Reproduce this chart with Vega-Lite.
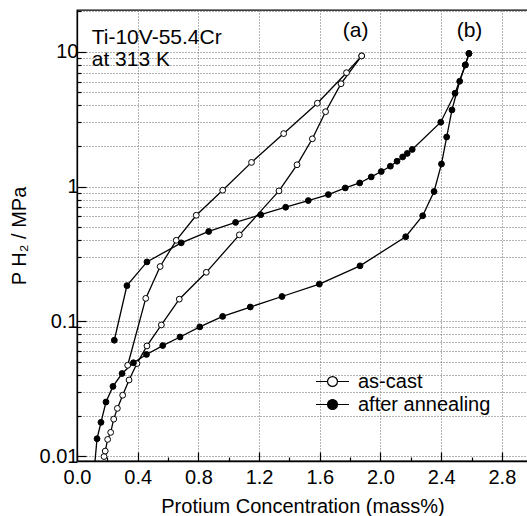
{
  "$schema": "https://vega.github.io/schema/vega-lite/v6.json",
  "width": 451,
  "height": 451,
  "autosize": "none",
  "padding": {"left": 77, "top": 10, "right": 0, "bottom": 55},
  "background": "white",
  "config": {
    "view": {"stroke": "black", "strokeWidth": 1.3},
    "font": "Liberation Sans"
  },
  "datasets": {
    "curves": [
      {"series": "as-cast", "curve": "ac-abs", "x": 0.178, "y": 0.00993},
      {"series": "as-cast", "curve": "ac-abs", "x": 0.186, "y": 0.0109},
      {"series": "as-cast", "curve": "ac-abs", "x": 0.202, "y": 0.0133},
      {"series": "as-cast", "curve": "ac-abs", "x": 0.222, "y": 0.0150},
      {"series": "as-cast", "curve": "ac-abs", "x": 0.242, "y": 0.0188},
      {"series": "as-cast", "curve": "ac-abs", "x": 0.266, "y": 0.0226},
      {"series": "as-cast", "curve": "ac-abs", "x": 0.301, "y": 0.0283},
      {"series": "as-cast", "curve": "ac-abs", "x": 0.343, "y": 0.0367},
      {"series": "as-cast", "curve": "ac-abs", "x": 0.395, "y": 0.0486},
      {"series": "as-cast", "curve": "ac-abs", "x": 0.461, "y": 0.0657},
      {"series": "as-cast", "curve": "ac-abs", "x": 0.556, "y": 0.094},
      {"series": "as-cast", "curve": "ac-abs", "x": 0.674, "y": 0.146},
      {"series": "as-cast", "curve": "ac-abs", "x": 0.852, "y": 0.231},
      {"series": "as-cast", "curve": "ac-abs", "x": 1.070, "y": 0.438},
      {"series": "as-cast", "curve": "ac-abs", "x": 1.331, "y": 0.928},
      {"series": "as-cast", "curve": "ac-abs", "x": 1.450, "y": 1.45},
      {"series": "as-cast", "curve": "ac-abs", "x": 1.551, "y": 2.26},
      {"series": "as-cast", "curve": "ac-abs", "x": 1.638, "y": 3.59},
      {"series": "as-cast", "curve": "ac-abs", "x": 1.740, "y": 5.79},
      {"series": "as-cast", "curve": "ac-abs", "x": 1.876, "y": 9.31},
      {"series": "as-cast", "curve": "ac-des", "x": 1.876, "y": 9.31},
      {"series": "as-cast", "curve": "ac-des", "x": 1.776, "y": 6.99},
      {"series": "as-cast", "curve": "ac-des", "x": 1.584, "y": 4.15},
      {"series": "as-cast", "curve": "ac-des", "x": 1.362, "y": 2.47},
      {"series": "as-cast", "curve": "ac-des", "x": 1.150, "y": 1.51},
      {"series": "as-cast", "curve": "ac-des", "x": 0.960, "y": 0.939},
      {"series": "as-cast", "curve": "ac-des", "x": 0.786, "y": 0.612},
      {"series": "as-cast", "curve": "ac-des", "x": 0.654, "y": 0.399},
      {"series": "as-cast", "curve": "ac-des", "x": 0.548, "y": 0.255},
      {"series": "as-cast", "curve": "ac-des", "x": 0.453, "y": 0.148},
      {"series": "as-cast", "curve": "ac-des", "x": 0.334, "y": 0.0472},
      {"series": "after annealing", "curve": "an-abs", "x": 0.116, "y": 0.0085},
      {"series": "after annealing", "curve": "an-abs", "x": 0.132, "y": 0.01346},
      {"series": "after annealing", "curve": "an-abs", "x": 0.158, "y": 0.0178},
      {"series": "after annealing", "curve": "an-abs", "x": 0.191, "y": 0.0252},
      {"series": "after annealing", "curve": "an-abs", "x": 0.237, "y": 0.0329},
      {"series": "after annealing", "curve": "an-abs", "x": 0.297, "y": 0.0410},
      {"series": "after annealing", "curve": "an-abs", "x": 0.372, "y": 0.0493},
      {"series": "after annealing", "curve": "an-abs", "x": 0.458, "y": 0.0568},
      {"series": "after annealing", "curve": "an-abs", "x": 0.565, "y": 0.0661},
      {"series": "after annealing", "curve": "an-abs", "x": 0.679, "y": 0.0765},
      {"series": "after annealing", "curve": "an-abs", "x": 0.809, "y": 0.0909},
      {"series": "after annealing", "curve": "an-abs", "x": 0.960, "y": 0.1088},
      {"series": "after annealing", "curve": "an-abs", "x": 1.142, "y": 0.1277},
      {"series": "after annealing", "curve": "an-abs", "x": 1.351, "y": 0.1528},
      {"series": "after annealing", "curve": "an-abs", "x": 1.597, "y": 0.189},
      {"series": "after annealing", "curve": "an-abs", "x": 1.865, "y": 0.258},
      {"series": "after annealing", "curve": "an-abs", "x": 2.166, "y": 0.424},
      {"series": "after annealing", "curve": "an-abs", "x": 2.278, "y": 0.607},
      {"series": "after annealing", "curve": "an-abs", "x": 2.353, "y": 0.918},
      {"series": "after annealing", "curve": "an-abs", "x": 2.402, "y": 1.47},
      {"series": "after annealing", "curve": "an-abs", "x": 2.436, "y": 2.33},
      {"series": "after annealing", "curve": "an-abs", "x": 2.471, "y": 3.70},
      {"series": "after annealing", "curve": "an-abs", "x": 2.522, "y": 6.04},
      {"series": "after annealing", "curve": "an-abs", "x": 2.559, "y": 7.98},
      {"series": "after annealing", "curve": "an-abs", "x": 2.583, "y": 9.70},
      {"series": "after annealing", "curve": "an-des", "x": 0.246, "y": 0.0724},
      {"series": "after annealing", "curve": "an-des", "x": 0.329, "y": 0.184},
      {"series": "after annealing", "curve": "an-des", "x": 0.461, "y": 0.276},
      {"series": "after annealing", "curve": "an-des", "x": 0.687, "y": 0.382},
      {"series": "after annealing", "curve": "an-des", "x": 0.868, "y": 0.464},
      {"series": "after annealing", "curve": "an-des", "x": 1.045, "y": 0.542},
      {"series": "after annealing", "curve": "an-des", "x": 1.211, "y": 0.618},
      {"series": "after annealing", "curve": "an-des", "x": 1.375, "y": 0.702},
      {"series": "after annealing", "curve": "an-des", "x": 1.524, "y": 0.787},
      {"series": "after annealing", "curve": "an-des", "x": 1.656, "y": 0.872},
      {"series": "after annealing", "curve": "an-des", "x": 1.768, "y": 0.976},
      {"series": "after annealing", "curve": "an-des", "x": 1.863, "y": 1.063},
      {"series": "after annealing", "curve": "an-des", "x": 1.939, "y": 1.178},
      {"series": "after annealing", "curve": "an-des", "x": 2.005, "y": 1.292},
      {"series": "after annealing", "curve": "an-des", "x": 2.065, "y": 1.415},
      {"series": "after annealing", "curve": "an-des", "x": 2.109, "y": 1.541},
      {"series": "after annealing", "curve": "an-des", "x": 2.146, "y": 1.658},
      {"series": "after annealing", "curve": "an-des", "x": 2.176, "y": 1.76},
      {"series": "after annealing", "curve": "an-des", "x": 2.209, "y": 1.884},
      {"series": "after annealing", "curve": "an-des", "x": 2.397, "y": 3.00},
      {"series": "after annealing", "curve": "an-des", "x": 2.491, "y": 4.92},
      {"series": "after annealing", "curve": "an-des", "x": 2.559, "y": 7.98},
      {"series": "after annealing", "curve": "an-des", "x": 2.583, "y": 9.70}
    ],
    "notes": [
      {"x": 0.097, "y": 11.36, "t": "Ti-10V-55.4Cr"},
      {"x": 0.097, "y": 7.85, "t": "at 313 K"},
      {"x": 1.751, "y": 12.8, "t": "(a)"},
      {"x": 2.502, "y": 12.8, "t": "(b)"}
    ]
  },
  "encoding": {
    "x": {
      "field": "x",
      "type": "quantitative",
      "scale": {"domain": [0, 2.972], "nice": false, "zero": false},
      "axis": {
        "title": "Protium Concentration (mass%)",
        "titleFontSize": 20,
        "titleFontWeight": "normal",
        "titleColor": "black",
        "titlePadding": 4,
        "values": [0, 0.2, 0.4, 0.6, 0.8, 1.0, 1.2, 1.4, 1.6, 1.8, 2.0, 2.2, 2.4, 2.6, 2.8],
        "labelExpr": "round(datum.value*10) % 4 == 0 ? format(datum.value, '.1f') : ''",
        "labelFontSize": 20,
        "labelColor": "black",
        "labelPadding": 15,
        "labelFlush": false,
        "labelOverlap": false,
        "tickSize": {"condition": {"test": "round(datum.value*10) % 4 == 0", "value": -9}, "value": -4},
        "tickColor": "black",
        "tickWidth": 1.2,
        "domainColor": "black",
        "domainWidth": 1.3,
        "grid": true,
        "gridDash": [1, 2],
        "gridColor": "#666",
        "gridOpacity": {"condition": {"test": "round(datum.value*10) % 4 == 0 && datum.value > 0", "value": 1}, "value": 0}
      }
    },
    "y": {
      "field": "y",
      "type": "quantitative",
      "scale": {"type": "log", "domain": [0.0092, 20.4], "nice": false},
      "axis": {
        "title": "P  H₂ / MPa",
        "titleFontSize": 20,
        "titleFontWeight": "normal",
        "titleColor": "black",
        "titlePadding": 10,
        "values": [0.01, 0.02, 0.03, 0.04, 0.05, 0.06, 0.07, 0.08, 0.09, 0.1, 0.2, 0.3, 0.4, 0.5, 0.6, 0.7, 0.8, 0.9, 1, 2, 3, 4, 5, 6, 7, 8, 9, 10, 20],
        "labelExpr": "(datum.value == 0.01 || datum.value == 0.1 || datum.value == 1 || datum.value == 10) ? format(datum.value, '~g') : ''",
        "labelFontSize": 20,
        "labelColor": "black",
        "labelPadding": 8,
        "labelFlush": false,
        "labelOverlap": false,
        "tickSize": {"condition": {"test": "datum.value == 0.01 || datum.value == 0.1 || datum.value == 1 || datum.value == 10", "value": -9}, "value": -4},
        "tickColor": "black",
        "tickWidth": 1.2,
        "domainColor": "black",
        "domainWidth": 1.3,
        "grid": true,
        "gridDash": [1, 2],
        "gridColor": "#666"
      }
    }
  },
  "layer": [
    {
      "data": {"name": "curves"},
      "mark": {"type": "line", "color": "black", "strokeWidth": 1.3, "clip": true},
      "encoding": {"detail": {"field": "curve", "type": "nominal"}}
    },
    {
      "data": {"name": "curves"},
      "mark": {"type": "circle", "size": 34, "stroke": "black", "strokeWidth": 1, "opacity": 1, "clip": true},
      "encoding": {
        "fill": {
          "field": "series",
          "type": "nominal",
          "scale": {"domain": ["as-cast", "after annealing"], "range": ["white", "black"]},
          "legend": {
            "title": null,
            "orient": "none",
            "legendX": 238,
            "legendY": 360,
            "padding": 0,
            "symbolType": "M-1,0L-0.3,0M0.3,0L1,0M-0.3,0A0.3,0.3,0,1,1,0.3,0A0.3,0.3,0,1,1,-0.3,0Z",
            "symbolSize": 1089,
            "symbolStrokeColor": "black",
            "symbolStrokeWidth": 1.2,
            "symbolOpacity": 1,
            "clipHeight": 23,
            "rowPadding": 0,
            "labelFontSize": 20,
            "labelColor": "black",
            "labelOffset": 8,
            "labelLimit": 300
          }
        }
      }
    },
    {
      "data": {"name": "notes"},
      "mark": {"type": "text", "align": "left", "baseline": "alphabetic", "fontSize": 21, "color": "black"},
      "encoding": {"text": {"field": "t", "type": "nominal"}}
    }
  ]
}
